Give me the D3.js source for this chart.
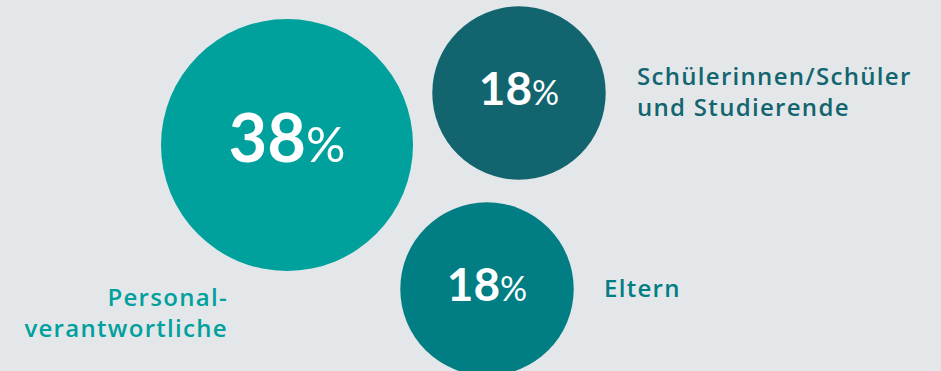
<!DOCTYPE html>
<html>
<head>
<meta charset="utf-8">
<script src="https://cdn.jsdelivr.net/npm/d3@7"></script>
<style>
  body { margin: 0; background: #e4e7ea; }
  svg { display: block; }
</style>
</head>
<body>
<script>
// values
const groups = ["Personalverantwortliche", "Schülerinnen/Schüler und Studierende", "Eltern"]
const shares = [38, 18, 18]
const labelLines = [["Personal-", "verantwortliche"], ["Schülerinnen/Schüler", "und Studierende"], ["Eltern"]]
const colors = ["#00a09d", "#12656e", "#007e83"]

// circle centres and label anchors in page pixels
const centres = [[287, 145], [519, 93], [487, 289]]
const labelPos = [{x: 228, y: 306, anchor: "end"}, {x: 637, y: 85, anchor: "start"}, {x: 604, y: 297, anchor: "start"}]

const width = 941, height = 371

const svg = d3.select("body").append("svg")
    .attr("width", width)
    .attr("height", height)

svg.append("rect")
    .attr("width", width)
    .attr("height", height)
    .attr("fill", "#e4e7ea")

// area proportional bubbles
const r = d3.scaleSqrt().domain([0, d3.max(shares)]).range([0, 126])
const numFont = "Lato, 'Noto Sans', sans-serif"
const labelFont = "'Open Sans', 'Noto Sans', sans-serif"

const data = groups.map((g, i) => ({
    name: g, value: shares[i], color: colors[i],
    cx: centres[i][0], cy: centres[i][1], label: labelLines[i], lp: labelPos[i]
}))

const bubble = svg.selectAll("g.bubble")
    .data(data)
    .join("g")
    .attr("class", "bubble")

bubble.append("circle")
    .attr("cx", d => d.cx)
    .attr("cy", d => d.cy)
    .attr("r", d => r(d.value))
    .attr("fill", d => d.color)

// number in bold, percent sign lighter and smaller
const num = bubble.append("text")
    .attr("x", d => d.cx)
    .attr("y", d => d.cy + r(d.value) * 0.135)
    .attr("text-anchor", "middle")
    .attr("fill", "#fff")
    .style("font-family", numFont)

num.append("tspan")
    .style("font-weight", 700)
    .style("font-size", d => r(d.value) * 0.53 + "px")
    .text(d => d.value)

num.append("tspan")
    .style("font-weight", 400)
    .style("font-size", d => r(d.value) * 0.39 + "px")
    .text("%")

const lab = bubble.append("text")
    .attr("text-anchor", d => d.lp.anchor)
    .attr("fill", d => d.color)
    .style("font-family", labelFont)
    .style("font-size", "24px")
    .style("font-weight", 600)
    .style("letter-spacing", "1.3px")

lab.selectAll("tspan")
    .data(d => d.label.map((t, j) => ({t, j, lp: d.lp})))
    .join("tspan")
    .attr("x", d => d.lp.x)
    .attr("y", d => d.lp.y + d.j * 31)
    .text(d => d.t)
</script>
</body>
</html>
